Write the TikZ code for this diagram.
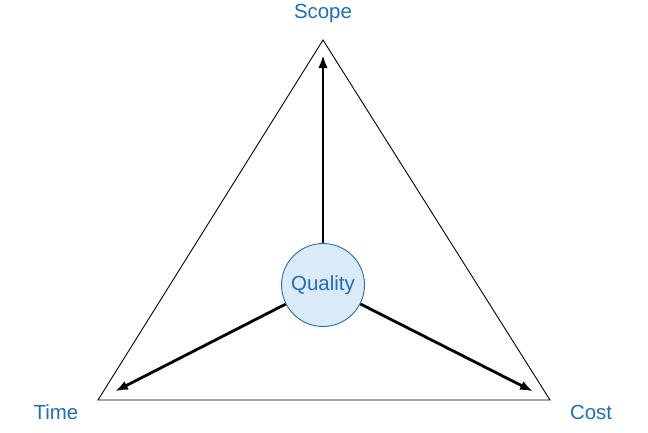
\documentclass[tikz,border=0pt]{standalone}
\usepackage{fontspec}
\setmainfont{Liberation Sans}
\usetikzlibrary{arrows.meta}
\definecolor{qblue}{HTML}{1F6FB4}
\definecolor{qfill}{HTML}{DAEAF6}

\begin{document}
\begin{tikzpicture}[x=1bp, y=-1bp, font=\fontsize{20.5}{24}\selectfont,
		lbl/.style={text=qblue, inner sep=0pt, anchor=base},
		arr/.style={-{Latex[length=13bp, width=9.5bp]}, line width=2.8bp, shorten >=17bp}]

			\useasboundingbox (0,0) rectangle (648,432);

			% Corners of the triangle
			\coordinate (scope) at (323,40);
			\coordinate (time) at (98,400);
			\coordinate (cost) at (550,400);

			% Triangle
			\draw[line width=0.9bp] (scope) -- (time) -- (cost) -- cycle;

			% Quality in the middle
			\node[circle, draw=qblue, line width=0.9bp, fill=qfill, minimum size=83bp, inner sep=0pt, text=qblue] (quality) at (323,285) {Quality};

			% Arrows to the corners
			\draw[arr, shorten >=15bp] (quality) -- (scope);
			\draw[arr, shorten >=19bp] (quality) -- (time);
			\draw[arr, shorten >=19bp] (quality) -- (cost);

			% Labels
			\node[lbl] (scopelabel) at (323,18) {Scope};
			\node[lbl] (timelabel) at (56,419) {Time};
			\node[lbl] (costlabel) at (591,419) {Cost};

		\end{tikzpicture}
\end{document}
